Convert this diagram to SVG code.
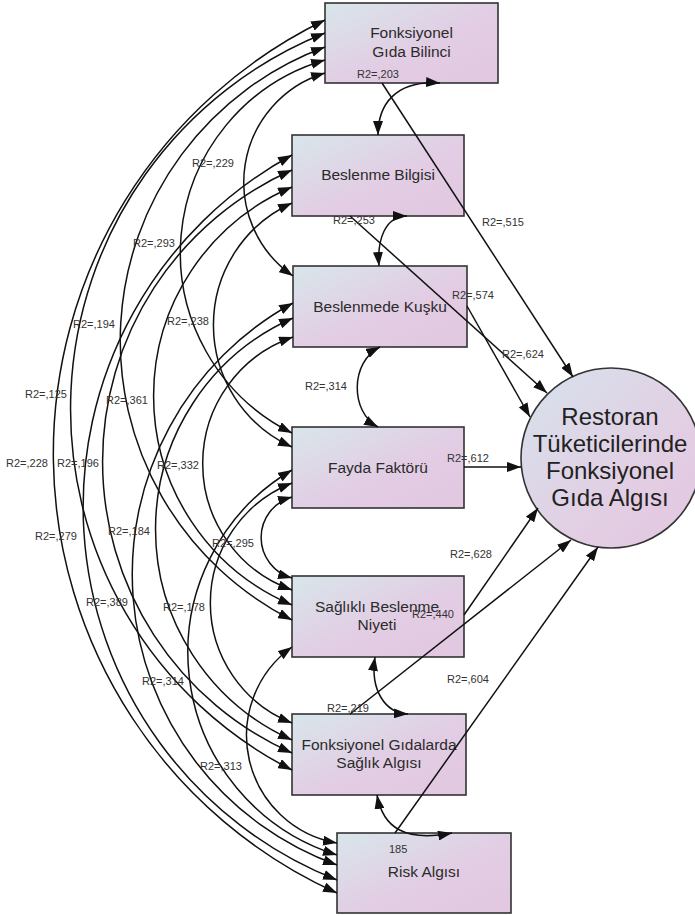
<svg xmlns="http://www.w3.org/2000/svg" width="695" height="916" viewBox="0 0 695 916">
<style>
.box{fill:url(#bg);stroke:#333;stroke-width:1.6}
.t{font-family:"Liberation Sans",Arial,sans-serif;font-size:15.5px;fill:#2b2b2b;text-anchor:middle}
.ct{font-family:"Liberation Sans",Arial,sans-serif;font-size:24px;fill:#222;text-anchor:middle}
.lbl{font-family:"Liberation Sans",Arial,sans-serif;font-size:11px;fill:#333}
.c{fill:none;stroke:#111;stroke-width:1.5;marker-start:url(#ah);marker-end:url(#ah)}
.p{fill:none;stroke:#111;stroke-width:1.5;marker-end:url(#ah)}
</style>
<defs>
<linearGradient id="bg" x1="0" y1="0" x2="1" y2="1">
<stop offset="0" stop-color="#d8e6ea"/>
<stop offset="0.55" stop-color="#e2cde4"/>
<stop offset="1" stop-color="#e2c7e1"/>
</linearGradient>
<linearGradient id="cg" x1="0" y1="0" x2="1" y2="1">
<stop offset="0" stop-color="#d6e2ec"/>
<stop offset="0.6" stop-color="#e2cfe4"/>
<stop offset="1" stop-color="#e3c6e0"/>
</linearGradient>
<marker id="ah" markerUnits="userSpaceOnUse" markerWidth="14" markerHeight="10" viewBox="0 0 14 10" refX="14" refY="5" orient="auto-start-reverse">
<path d="M0,0 L14,5 L0,10 z" fill="#111"/>
</marker>
</defs>

<g id="n1"><rect class="box" x="325" y="3" width="173" height="80"/><text class="t" x="411.5" y="38">Fonksiyonel</text><text class="t" x="411.5" y="57">Gıda Bilinci</text></g>
<g id="n2"><rect class="box" x="292" y="135" width="172" height="81"/><text class="t" x="378" y="180">Beslenme Bilgisi</text></g>
<g id="n3"><rect class="box" x="293" y="266" width="174" height="81"/><text class="t" x="380" y="312">Beslenmede Kuşku</text></g>
<g id="n4"><rect class="box" x="292" y="427" width="172" height="81"/><text class="t" x="378" y="473">Fayda Faktörü</text></g>
<g id="n5"><rect class="box" x="292" y="576" width="172" height="81"/><text class="t" x="377" y="612">Sağlıklı Beslenme</text><text class="t" x="377" y="630">Niyeti</text></g>
<g id="n6"><rect class="box" x="292" y="714" width="174" height="81"/><text class="t" x="379" y="750">Fonksiyonel Gıdalarda</text><text class="t" x="379" y="768">Sağlık Algısı</text></g>
<g id="n7"><rect class="box" x="337" y="833" width="174" height="80"/><text class="t" x="424" y="877">Risk Algısı</text></g>
<g id="outcome"><circle cx="611" cy="458" r="90" fill="url(#cg)" stroke="#333" stroke-width="1.6"/>
<text class="ct" x="610" y="425">Restoran</text><text class="ct" x="610" y="452">Tüketicilerinde</text><text class="ct" x="610" y="479">Fonksiyonel</text><text class="ct" x="610" y="506">Gıda Algısı</text></g>

<g id="connectors">
<path class="c" d="M325,73 A114,114 0 0 0 293,276"/>
<path class="c" d="M325,60 A201,201 0 0 0 292,433"/>
<path class="c" d="M325,47 A313,313 0 0 0 292,620"/>
<path class="c" d="M325,33 A405,405 0 0 0 292,770"/>
<path class="c" d="M325,20 A482,482 0 0 0 337,893"/>
<path class="c" d="M292,203 A134,134 0 0 0 292,447"/>
<path class="c" d="M292,187 A227,227 0 0 0 292,605"/>
<path class="c" d="M292,170 A319,319 0 0 0 292,753"/>
<path class="c" d="M292,155 A401,401 0 0 0 337,880"/>
<path class="c" d="M293,337 A134,134 0 0 0 292,590"/>
<path class="c" d="M293,318 A231,231 0 0 0 292,740"/>
<path class="c" d="M293,303 A309,309 0 0 0 337,865"/>
<path class="c" d="M292,497 A42,42 0 0 0 292,578"/>
<path class="c" d="M292,483 A129,129 0 0 0 292,723"/>
<path class="c" d="M292,470 A212,212 0 0 0 337,855"/>
<path class="c" d="M292,647 A109,109 0 0 0 337,843"/>
<path class="c" d="M378,135 C378,105 395,80 440,83"/>
<path class="c" d="M379,266 C377,240 385,216 407,216"/>
<path class="c" d="M380,347 C350,362 350,412 378,427"/>
<path class="c" d="M375,657 C370,690 385,713 408,714"/>
<path class="c" d="M377,795 C383,828 405,842 452,833"/>
<path class="p" d="M382,83 L573,377"/>
<path class="p" d="M350,216 L547,393"/>
<path class="p" d="M467,306 L530,417"/>
<path class="p" d="M464,467 L521,467"/>
<path class="p" d="M464,615 L538,508"/>
<path class="p" d="M350,714 L571,540"/>
<path class="p" d="M395,833 L598,547"/>
</g>

<g id="labels">
<text class="lbl" x="357" y="78">R2=,203</text>
<text class="lbl" x="192" y="167">R2=,229</text>
<text class="lbl" x="133" y="247">R2=,293</text>
<text class="lbl" x="333" y="224">R2=,253</text>
<text class="lbl" x="482" y="226">R2=,515</text>
<text class="lbl" x="452" y="299">R2=,574</text>
<text class="lbl" x="73" y="328">R2=,194</text>
<text class="lbl" x="167" y="325">R2=,238</text>
<text class="lbl" x="502" y="358">R2=,624</text>
<text class="lbl" x="305" y="390">R2=,314</text>
<text class="lbl" x="25" y="398">R2=,125</text>
<text class="lbl" x="106" y="404">R2=,361</text>
<text class="lbl" x="6" y="467">R2=,228</text>
<text class="lbl" x="57" y="467">R2=,196</text>
<text class="lbl" x="157" y="469">R2=,332</text>
<text class="lbl" x="447" y="462">R2=,612</text>
<text class="lbl" x="35" y="540">R2=,279</text>
<text class="lbl" x="108" y="535">R2=,184</text>
<text class="lbl" x="212" y="547">R2=,295</text>
<text class="lbl" x="450" y="558">R2=,628</text>
<text class="lbl" x="86" y="606">R2=,389</text>
<text class="lbl" x="163" y="611">R2=,178</text>
<text class="lbl" x="412" y="618">R2=,440</text>
<text class="lbl" x="447" y="683">R2=,604</text>
<text class="lbl" x="142" y="685">R2=,314</text>
<text class="lbl" x="327" y="712">R2=,219</text>
<text class="lbl" x="200" y="770">R2=,313</text>
<text class="lbl" x="389" y="853">185</text>
</g>
</svg>
